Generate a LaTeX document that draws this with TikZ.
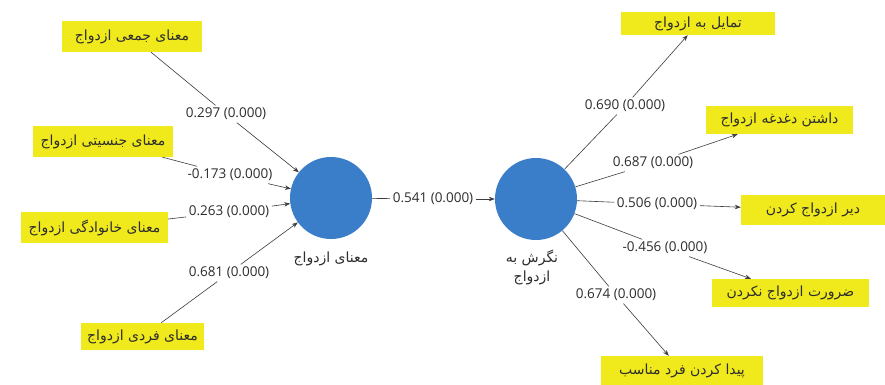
\documentclass[tikz,border=0pt]{standalone}
\usepackage{fontspec}
\setmainfont{Open Sans}
\newfontfamily\fa[Script=Arabic]{DejaVu Sans}
\TeXXeTstate=1
\usetikzlibrary{arrows.meta}
\definecolor{boxyellow}{RGB}{240,234,28}
\definecolor{circblue}{RGB}{58,125,200}
\definecolor{linegray}{RGB}{60,60,60}
\definecolor{txtgray}{RGB}{45,45,45}
\begin{document}
\begin{tikzpicture}[x=1pt,y=-1pt,
 ybox/.style={fill=boxyellow, inner sep=0pt, font=\fa\fontsize{14}{16}\selectfont, text=txtgray},
 latent/.style={circle, fill=circblue, minimum size=82pt, inner sep=0pt},
 coef/.style={inner sep=2.5pt, font=\fontsize{13.5}{15}\selectfont, text=txtgray},
 conn/.style={draw=linegray, line width=0.6pt},
 arr/.style={conn, -{Stealth[length=6pt,width=4.5pt]}},
 clabel/.style={font=\fa\fontsize{14}{19}\selectfont, align=center, text=txtgray}]
\fill[white] (0,0) rectangle (885,385);
\useasboundingbox (0,0) rectangle (885,385);
% left indicator boxes
\node[ybox, minimum width=140pt, minimum height=31pt] (b1) at (132,36.5) {\beginR معنای جمعی ازدواج\endR};
\node[ybox, minimum width=140pt, minimum height=31pt] (b2) at (103,141.5) {\beginR معنای جنسیتی ازدواج\endR};
\node[ybox, minimum width=147pt, minimum height=31pt] (b3) at (94.5,227.5) {\beginR معنای خانوادگی ازدواج\endR};
\node[ybox, minimum width=123pt, minimum height=27pt] (b4) at (142.5,336.5) {\beginR معنای فردی ازدواج\endR};
% right indicator boxes
\node[ybox, minimum width=154pt, minimum height=23pt] (r1) at (698,23.5) {\beginR تمایل به ازدواج\endR};
\node[ybox, minimum width=147pt, minimum height=28pt] (r2) at (779.5,120) {\beginR داشتن دغدغه ازدواج\endR};
\node[ybox, minimum width=144pt, minimum height=30pt] (r3) at (813,210) {\beginR دیر ازدواج کردن\endR};
\node[ybox, minimum width=157pt, minimum height=28pt] (r4) at (790.5,293) {\beginR ضرورت ازدواج نکردن\endR};
\node[ybox, minimum width=162pt, minimum height=30pt] (r5) at (682,371) {\beginR پیدا کردن فرد مناسب\endR};
% latent variables
\node[latent] (c1) at (331,198) {};
\node[latent] (c2) at (536,199) {};
\node[clabel] (t1) at (331,259) {\beginR معنای ازدواج\endR};
\node[clabel] (t2) at (532,267) {\beginR نگرش به\endR\\\beginR ازدواج\endR};
% coefficient labels
\node[coef] (l1) at (226,114) {0.297 (0.000)};
\node[coef] (l2) at (230,175) {-0.173 (0.000)};
\node[coef] (l3) at (229,212) {0.263 (0.000)};
\node[coef] (l4) at (229,273) {0.681 (0.000)};
\node[coef] (lm) at (433,199) {0.541 (0.000)};
\node[coef] (lr1) at (625,106) {0.690 (0.000)};
\node[coef] (lr2) at (653,163) {0.687 (0.000)};
\node[coef] (lr3) at (657,204) {0.506 (0.000)};
\node[coef] (lr4) at (665,248) {-0.456 (0.000)};
\node[coef] (lr5) at (616,295) {0.674 (0.000)};
% connectors
\draw[conn] (b1) -- (l1); \draw[arr] (l1) -- (c1);
\draw[conn] (b2) -- (l2); \draw[arr] (l2) -- (c1);
\draw[conn] (b3) -- (l3); \draw[arr] (l3) -- (c1);
\draw[conn] (b4) -- (l4); \draw[arr] (l4) -- (c1);
\draw[conn] (c1) -- (lm); \draw[arr] (lm) -- (c2);
\draw[conn] (c2) -- (lr1); \draw[arr] (lr1) -- (r1);
\draw[conn] (c2) -- (lr2); \draw[arr] (lr2) -- (r2);
\draw[conn] (c2) -- (lr3); \draw[arr] (lr3) -- (r3);
\draw[conn] (c2) -- (lr4); \draw[arr] (lr4) -- (r4);
\draw[conn] (c2) -- (lr5); \draw[arr] (lr5) -- (r5);
\end{tikzpicture}
\end{document}
